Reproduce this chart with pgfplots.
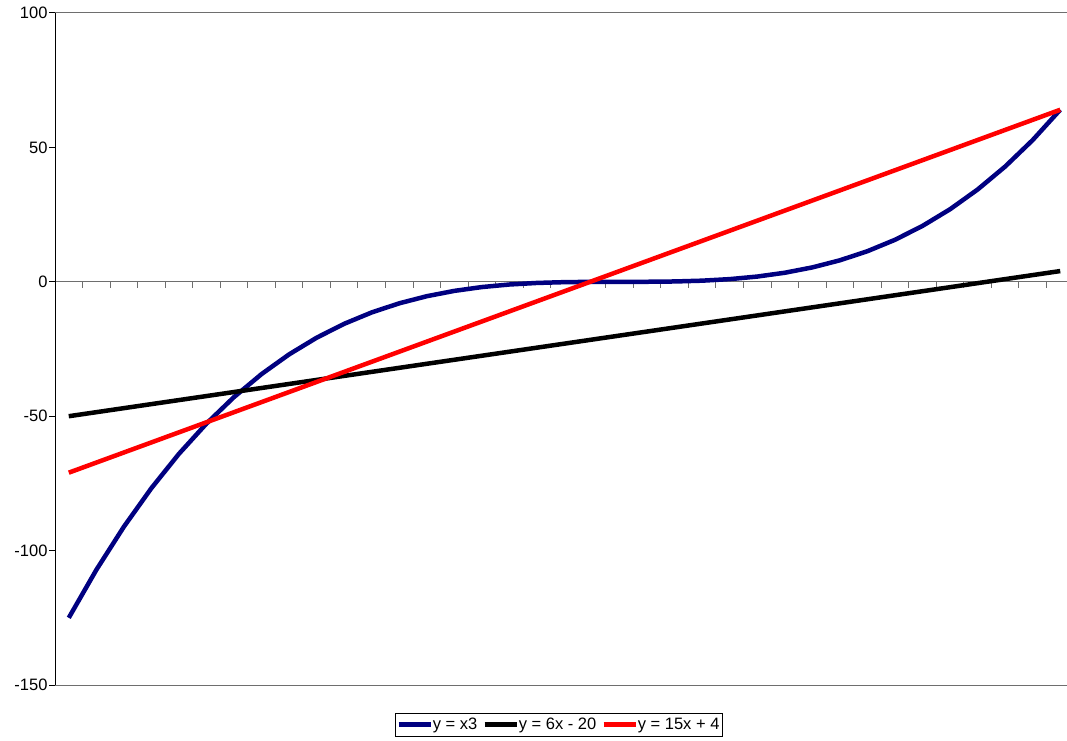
\documentclass[border=0pt]{standalone}
\usepackage{fontspec}
\setmainfont{Liberation Sans}
\usepackage{pgfplots}
\pgfplotsset{compat=1.18}
\usetikzlibrary{calc}
\definecolor{navyblue}{HTML}{000080}
\definecolor{axgray}{HTML}{6E6E6E}
\begin{document}
\begin{tikzpicture}
\begin{axis}[
  name=ax,
  scale only axis,
  width=1019pt, height=672pt,
  xmin=-0.5, xmax=36.5,
  ymin=-150, ymax=100,
  axis y line=left,
  axis x line=middle,
  axis line style={-},
  x axis line style={axgray, line width=1pt},
  y axis line style={black, line width=1pt},
  tick align=outside,
  ytick={-150,-100,-50,0,50,100},
  yticklabel style={font=\fontsize{16.5}{19}\selectfont, xshift=2pt},
  major tick length=6pt,
  ytick style={black, line width=1pt},
  xtick=data,
  xticklabels={1,2,3,4,5,6,7,8,9,10,11,12,13,14,15,16,17,18,19,20,21,22,23,24,25,26,27,28,29,30,31,32,33,34,35,36,37},
  major x tick style={draw=none},
  minor xtick={0.5,1.5,...,35.5},
  minor x tick style={axgray, line width=1pt},
  minor tick length=6pt,
  xticklabel style={white, font=\fontsize{15}{17}\selectfont, yshift=-10pt},
  extra y ticks={-150,100},
  extra y tick labels={},
  extra y tick style={grid=major, major grid style={axgray, line width=1pt}},
  /pgf/number format/assume math mode=true,
  clip=false,
  legend columns=3,
  legend style={at={(0.4945,-0.041)}, anchor=north, draw=black, line width=0.8pt,
    font=\fontsize{16.5}{19}\selectfont, inner xsep=1pt, inner ysep=3pt,
    /tikz/every even column/.append style={column sep=3pt},
    /tikz/every odd column/.append style={column sep=-2pt}},
  legend image code/.code={\draw[#1, line width=4.5pt] (0pt,0pt) -- (32pt,0pt);},
  every axis plot/.append style={line width=4.5pt, line join=round, no markers},
]
\addplot[navyblue] coordinates {
(0,-125) (1,-107.171875) (2,-91.125) (3,-76.765625) (4,-64) (5,-52.734375)
(6,-42.875) (7,-34.328125) (8,-27) (9,-20.796875) (10,-15.625) (11,-11.390625)
(12,-8) (13,-5.359375) (14,-3.375) (15,-1.953125) (16,-1) (17,-0.421875)
(18,-0.125) (19,-0.015625) (20,0) (21,0.015625) (22,0.125) (23,0.421875)
(24,1) (25,1.953125) (26,3.375) (27,5.359375) (28,8) (29,11.390625)
(30,15.625) (31,20.796875) (32,27) (33,34.328125) (34,42.875) (35,52.734375)
(36,64)};
\addlegendentry{y = x3}
\addplot[black] coordinates {
(0,-50) (1,-48.5) (2,-47) (3,-45.5) (4,-44) (5,-42.5) (6,-41) (7,-39.5)
(8,-38) (9,-36.5) (10,-35) (11,-33.5) (12,-32) (13,-30.5) (14,-29) (15,-27.5)
(16,-26) (17,-24.5) (18,-23) (19,-21.5) (20,-20) (21,-18.5) (22,-17) (23,-15.5)
(24,-14) (25,-12.5) (26,-11) (27,-9.5) (28,-8) (29,-6.5) (30,-5) (31,-3.5)
(32,-2) (33,-0.5) (34,1) (35,2.5) (36,4)};
\addlegendentry{y = 6x - 20}
\addplot[red] coordinates {
(0,-71) (1,-67.25) (2,-63.5) (3,-59.75) (4,-56) (5,-52.25) (6,-48.5) (7,-44.75)
(8,-41) (9,-37.25) (10,-33.5) (11,-29.75) (12,-26) (13,-22.25) (14,-18.5) (15,-14.75)
(16,-11) (17,-7.25) (18,-3.5) (19,0.25) (20,4) (21,7.75) (22,11.5) (23,15.25)
(24,19) (25,22.75) (26,26.5) (27,30.25) (28,34) (29,37.75) (30,41.5) (31,45.25)
(32,49) (33,52.75) (34,56.5) (35,60.25) (36,64)};
\addlegendentry{y = 15x + 4}
\end{axis}
\pgfresetboundingbox
\path[use as bounding box] ($(ax.south west)+(-55pt,-55pt)$) rectangle ($(ax.north east)+(-7pt,13pt)$);
\end{tikzpicture}
\end{document}
